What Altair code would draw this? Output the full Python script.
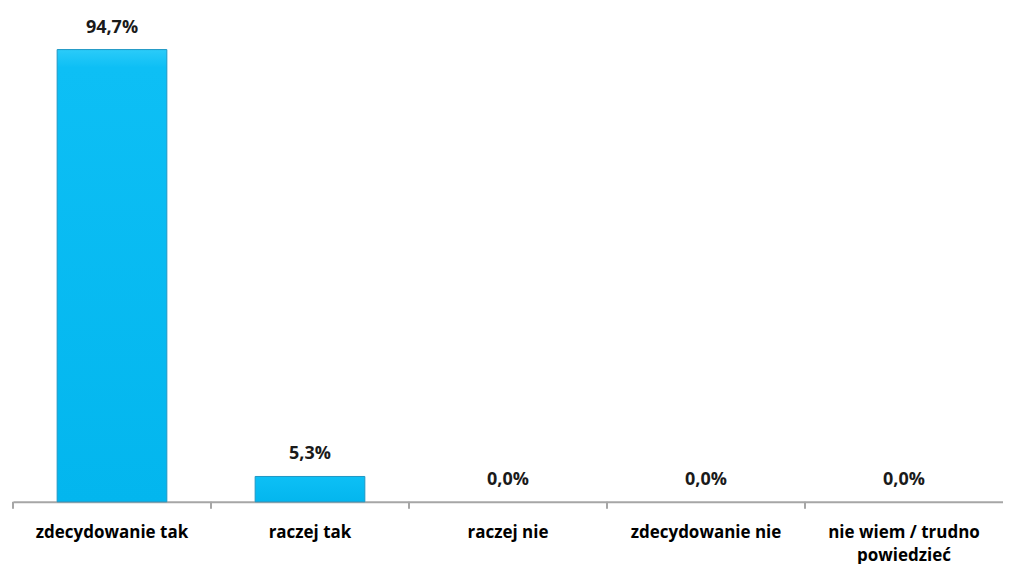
import altair as alt
import pandas as pd

categories = ["zdecydowanie tak", "raczej tak", "raczej nie", "zdecydowanie nie", "nie wiem / trudno powiedzieć"]
values = [94.7, 5.3, 0.0, 0.0, 0.0]

df = pd.DataFrame({
    "cat": categories,
    "val": values,
    "label": [f"{v:.1f}".replace(".", ",") + "%" for v in values],
})

FONT = "Open Sans"
W, H = 991, 478
band = alt.Scale(paddingInner=0.446, paddingOuter=0.223)
yenc = alt.Y("val:Q", scale=alt.Scale(domain=[0, 100]), axis=None)

bars = alt.Chart(df).mark_bar(
    color={"gradient": "linear", "x1": 0, "y1": 0, "x2": 0, "y2": 1,
           "stops": [{"offset": 0, "color": "#2BCBF9"}, {"offset": 0.04, "color": "#0DBFF5"},
                     {"offset": 1, "color": "#03B6EE"}]},
    strokeWidth=1,
).encode(
    x=alt.X(
        "cat:N", sort=categories, title=None, scale=band,
        axis=alt.Axis(
            labelAngle=0, ticks=False, domainColor="#A6A6A6", domainWidth=2,
            labelFont=FONT, labelFontSize=17, labelFontWeight="bold", labelColor="#000000",
            labelPadding=23, labelLineHeight=23, labelLimit=300,
            labelExpr="datum.value == 'nie wiem / trudno powiedzieć' ? ['nie wiem / trudno', 'powiedzieć'] : datum.value",
        ),
    ),
    y=yenc,
    stroke=alt.condition("datum.val > 0", alt.value("#1E97C4"), alt.value("transparent")),
)

texts = alt.Chart(df).mark_text(
    font=FONT, fontSize=18, fontWeight="bold", color="#1A1A1A", baseline="alphabetic", dy=-17,
).encode(x=alt.X("cat:N", sort=categories, scale=band, axis=None), y=yenc, text="label:N")

ticks = alt.Chart(df).mark_rule(color="#A6A6A6", strokeWidth=2).encode(
    x=alt.X("cat:N", sort=categories, bandPosition=0,
            scale=alt.Scale(paddingInner=0, paddingOuter=0), axis=None),
    y=alt.value(H), y2=alt.value(H + 7),
)

chart = alt.layer(bars, texts, ticks).resolve_scale(x="independent").properties(
    width=W, height=H, background="#FFFFFF",
    padding={"left": 4, "top": 10, "right": 0, "bottom": 0},
).configure_view(stroke="transparent", strokeWidth=0)

chart.save("out.html", embed_options={"renderer": "svg", "actions": False})
